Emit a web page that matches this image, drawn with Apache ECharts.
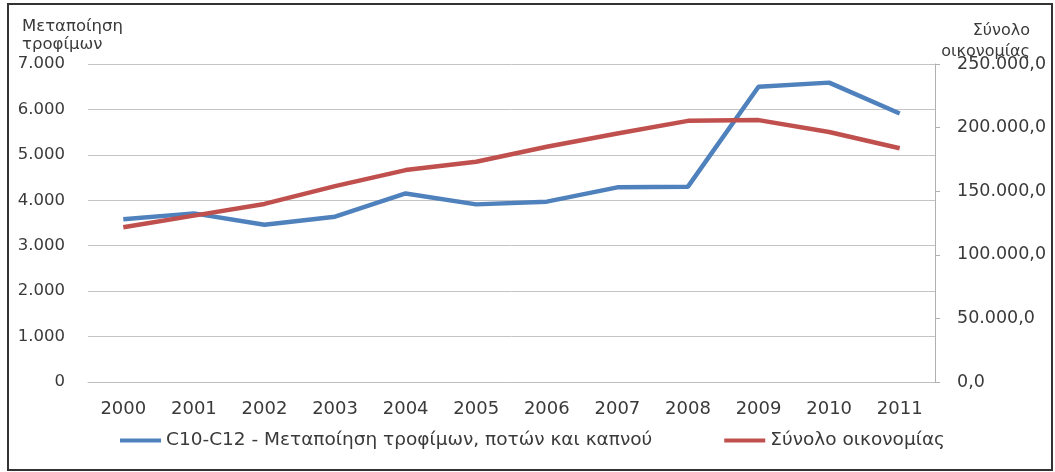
<!DOCTYPE html>
<html>
<head>
<meta charset="utf-8">
<script src="https://cdn.jsdelivr.net/npm/echarts@6/dist/echarts.min.js"></script>
<style>
html,body{margin:0;padding:0;background:#fff;}
#chart{width:1055px;height:472px;}
</style>
</head>
<body>
<div id="chart"></div>
<script>
const years = ['2000','2001','2002','2003','2004','2005','2006','2007','2008','2009','2010','2011'];
const foodValues = [3583, 3712, 3460, 3640, 4150, 3910, 3970, 4285, 4300, 6500, 6590, 5910];
const economyValues = [121600, 130800, 140000, 154000, 166600, 173100, 184900, 195400, 205300, 205900, 196500, 183800];
const foodName = 'C10-C12 - Μεταποίηση τροφίμων, ποτών και καπνού';
const economyName = 'Σύνολο οικονομίας';
const leftAxisTitle = 'Μεταποίηση\nτροφίμων';
const rightAxisTitle = 'Σύνολο\nοικονομίας';

function thousands(v){ return String(Math.round(v)).replace(/\B(?=(\d{3})+(?!\d))/g,'.'); }

const FONT = 'DejaVu Sans';
const TXT = '#3a3a3a';
const chart = echarts.init(document.getElementById('chart'), null, {renderer:'canvas'});
chart.setOption({
  backgroundColor:'#ffffff',
  animation:false,
  textStyle:{fontFamily:FONT},
  grid:{left:88,right:120,top:64,bottom:90,containLabel:false},
  legend:{
    left:120, top:431, padding:0,
    icon:'rect', itemWidth:41, itemHeight:4, itemGap:72,
    textStyle:{fontSize:18.5,color:TXT,fontFamily:FONT},
    data:[foodName, economyName]
  },
  xAxis:{
    type:'category', data:years, boundaryGap:true,
    axisLine:{show:true,lineStyle:{color:'#bfbfbf',width:1}},
    axisTick:{show:false},
    axisLabel:{fontSize:18,color:TXT,margin:18,fontFamily:FONT}
  },
  yAxis:[
    {type:'value',min:0,max:7000,interval:1000,position:'left',
     axisLine:{show:false},axisTick:{show:false},
     splitLine:{show:true,lineStyle:{color:'#c4c4c4',width:1}},
     axisLabel:{fontSize:16.5,color:TXT,margin:23,formatter:thousands,fontFamily:FONT}},
    {type:'value',min:0,max:250000,interval:50000,position:'right',
     axisLine:{show:true,lineStyle:{color:'#b0b0b0',width:1}},
     axisTick:{show:true,inside:false,length:5,lineStyle:{color:'#b0b0b0'}},
     splitLine:{show:false},
     axisLabel:{fontSize:17.5,color:TXT,margin:22,padding:[6,0,0,0],formatter:v=>thousands(v)+',0',fontFamily:FONT}}
  ],
  graphic:[
    {type:'rect',shape:{x:8,y:4,width:1044,height:466},style:{fill:'none',stroke:'#333',lineWidth:2},z:-1,silent:true},
    {type:'text',x:22,y:18,style:{text:leftAxisTitle,fontSize:16.5,lineHeight:18,fill:TXT,fontFamily:FONT,verticalAlign:'top'}},
    {type:'text',x:1030,y:20,style:{text:rightAxisTitle,fontSize:16,lineHeight:21,fill:TXT,fontFamily:FONT,align:'right',verticalAlign:'top'}}
  ],
  series:[
    {name:foodName,type:'line',yAxisIndex:0,data:foodValues,showSymbol:false,symbol:'none',
     lineStyle:{color:'#4F81BD',width:4.5},itemStyle:{color:'#4F81BD'}},
    {name:economyName,type:'line',yAxisIndex:1,data:economyValues,showSymbol:false,symbol:'none',
     lineStyle:{color:'#C0504D',width:4.5},itemStyle:{color:'#C0504D'}}
  ]
});
</script>
</body>
</html>
